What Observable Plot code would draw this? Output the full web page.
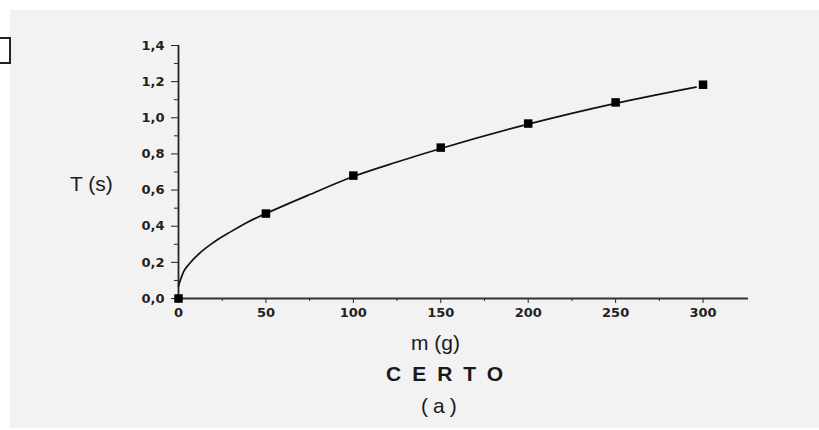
<!DOCTYPE html>
<html>
<head>
<meta charset="utf-8">
<script src="https://cdn.jsdelivr.net/npm/d3@7"></script>
<script src="https://cdn.jsdelivr.net/npm/@observablehq/plot@0.6"></script>
<style>
  html, body { margin: 0; padding: 0; background: #ffffff; }
  #page { position: relative; width: 819px; height: 430px; overflow: hidden; font-family: "Liberation Sans", Arial, sans-serif; color: #1a1a1a; }
  #scan { position: absolute; left: 10px; top: 10px; width: 809px; height: 418px; background: #f2f2f2; }
  #box { position: absolute; left: -2px; top: 37px; width: 9px; height: 23px; border: 2px solid #222; background: #fff; }
  #chart { position: absolute; left: 0; top: 0; }
  #chart svg text { font-size: 13px !important; font-weight: bold !important; font-family: "DejaVu Sans", sans-serif !important; fill: #222; }
  .lbl { position: absolute; white-space: nowrap; }
</style>
</head>
<body>
<div id="page">
  <div id="scan"></div>
  <div id="box"></div>
  <div id="chart"></div>
  <div class="lbl" style="left:70px; top:172px; font-size:21px;">T (s)</div>
  <div class="lbl" style="left:411px; top:331px; font-size:21px;">m (g)</div>
  <div class="lbl" style="left:386px; top:362px; font-size:21px; font-weight:bold; letter-spacing:11px;">CERTO</div>
  <div class="lbl" style="left:421px; top:394px; font-size:21px; letter-spacing:5px;">(a)</div>
</div>
<script>
// measured points
const massPoints = [0, 50, 100, 150, 200, 250, 300];
const periodPoints = [0, 0.47, 0.68, 0.835, 0.968, 1.085, 1.183];
// fitted curve
const massCurve = [0, 1, 3, 6, 12, 20, 30, 40, 50, 75, 100, 125, 150, 200, 250, 296];
const periodCurve = [0.07, 0.1, 0.15, 0.19, 0.25, 0.31, 0.37, 0.425, 0.47, 0.575, 0.675, 0.755, 0.83, 0.965, 1.08, 1.17];
// ticks
const xMajorTicks = [0, 50, 100, 150, 200, 250, 300];
const xMinorTicks = [25, 75, 125, 175, 225, 275];
const yMajorTicks = [0, 0.2, 0.4, 0.6, 0.8, 1.0, 1.2, 1.4];
const yMinorTicks = [0.1, 0.3, 0.5, 0.7, 0.9, 1.1, 1.3];

const points = massPoints.map((m, i) => ({m, T: periodPoints[i]}));
const curve = massCurve.map((m, i) => ({m, T: periodCurve[i]}));
const fmt = d => d.toFixed(1).replace(".", ",");

const chart = Plot.plot({
  width: 819,
  height: 330,
  marginLeft: 178,
  marginRight: 71,
  marginTop: 45,
  marginBottom: 32,
  style: { background: "transparent", color: "#222" },
  x: { domain: [0, 326] },
  y: { domain: [0, 1.4] },
  marks: [
    Plot.axisY(yMajorTicks, { tickSize: 7, tickPadding: 7, tickFormat: fmt, label: null, stroke: "#222" }),
    Plot.axisY(yMinorTicks, { tickSize: 4, text: null, label: null, stroke: "#222" }),
    Plot.axisX(xMajorTicks, { tickSize: 5, tickPadding: 4, label: null, stroke: "#222" }),
    Plot.axisX(xMinorTicks, { tickSize: 3, text: null, label: null, stroke: "#222" }),
    Plot.ruleX([0], { y1: 0, y2: 1.4, stroke: "#222", strokeWidth: 1.8 }),
    Plot.ruleY([0], { x1: 0, x2: 326, stroke: "#333", strokeWidth: 1.8 }),
    Plot.line(curve, { x: "m", y: "T", curve: "monotone-x", stroke: "#111", strokeWidth: 1.7 }),
    Plot.dot(points, { x: "m", y: "T", symbol: "square", r: 4.8, fill: "#000", stroke: "none" })
  ]
});
document.getElementById("chart").append(chart);
</script>
</body>
</html>
